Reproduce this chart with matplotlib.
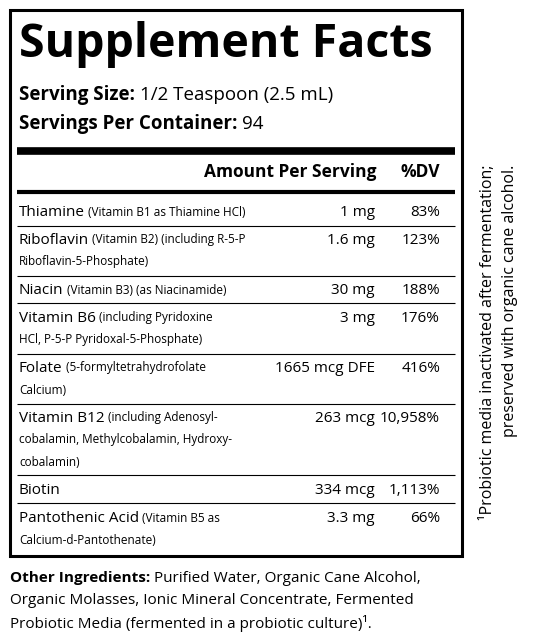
import matplotlib
matplotlib.use("Agg")
import matplotlib.pyplot as plt

FONT = "Open Sans"
title = "Supplement Facts"
serving_size = "1/2 Teaspoon (2.5 mL)"
servings = "94"
names = ["Thiamine", "Riboflavin", "Niacin", "Vitamin B6", "Folate", "Vitamin B12", "Biotin", "Pantothenic Acid"]
notes = [[" (Vitamin B1 as Thiamine HCl)"],
         [" (Vitamin B2) (including R-5-P", "Riboflavin-5-Phosphate)"],
         [" (Vitamin B3) (as Niacinamide)"],
         [" (including Pyridoxine", "HCl, P-5-P Pyridoxal-5-Phosphate)"],
         [" (5-formyltetrahydrofolate", "Calcium)"],
         [" (including Adenosyl-", "cobalamin, Methylcobalamin, Hydroxy-", "cobalamin)"],
         [""],
         [" (Vitamin B5 as", "Calcium-d-Pantothenate)"]]
amounts = ["1 mg", "1.6 mg", "30 mg", "3 mg", "1665 mcg DFE", "263 mcg", "334 mcg", "3.3 mg"]
dvs = ["83%", "123%", "188%", "176%", "416%", "10,958%", "1,113%", "66%"]
other = ["Purified Water, Organic Cane Alcohol,",
         "Organic Molasses, Ionic Mineral Concentrate, Fermented",
         "Probiotic Media (fermented in a probiotic culture)¹."]
footnote = ["¹Probiotic media inactivated after fermentation;", "preserved with organic cane alcohol."]

fig = plt.figure(figsize=(5.33, 6.38), dpi=100)
ax = fig.add_axes([0, 0, 1, 1])
ax.set_xlim(0, 533); ax.set_ylim(638, 0); ax.axis("off")
fig.canvas.draw()
r = fig.canvas.get_renderer()

def seq(x, y, parts):
    for s, size, w in parts:
        t = ax.text(x, y, s, fontsize=size, fontweight=w, family=FONT, va="center", ha="left")
        bb = t.get_window_extent(r)
        x += bb.width
    return x

L, R = 10, 462
ax.add_patch(plt.Rectangle((L, 10), R - L, 546, fill=False, lw=2.2, ec="black"))
ax.text(19, 45, title, fontsize=33.5, fontweight="bold", family=FONT, va="center")
seq(19, 95, [("Serving Size: ", 13.5, "bold"), (serving_size, 13.5, "normal")])
seq(19, 124, [("Servings Per Container: ", 13.5, "bold"), (servings, 13.5, "normal")])
def hline(y, lw):
    ax.plot([17, R - 7], [y, y], color="black", lw=lw, solid_capstyle="butt")
hline(151, 5.5)
ax.text(376, 172, "Amount Per Serving", fontsize=12.5, fontweight="bold", family=FONT, va="center", ha="right")
ax.text(440, 172, "%DV", fontsize=12.5, fontweight="bold", family=FONT, va="center", ha="right")
hline(192, 3)
ys = [212, 240, 290, 318, 368, 418, 490, 518]
seps = [226, 276, 303, 354, 404, 475, 503]
for i in range(8):
    y = ys[i]
    seq(19, y, [(names[i], 11, "normal"), (notes[i][0], 8.5, "normal")])
    for j, ln in enumerate(notes[i][1:]):
        ax.text(19, y + 22 * (j + 1), ln, fontsize=8.5, family=FONT, va="center")
    ax.text(375, y, amounts[i], fontsize=11, family=FONT, va="center", ha="right")
    ax.text(440, y, dvs[i], fontsize=11, family=FONT, va="center", ha="right")
for s in seps:
    hline(s, 0.8)
seq(10, 578, [("Other Ingredients: ", 11, "bold"), (other[0], 11, "normal")])
ax.text(10, 601, other[1], fontsize=11, family=FONT, va="center")
ax.text(10, 624, other[2], fontsize=11, family=FONT, va="center")
ax.text(488, 165, footnote[0], fontsize=11.5, family=FONT, rotation=90, va="center", ha="right", rotation_mode="anchor")
ax.text(510, 165, footnote[1], fontsize=11.5, family=FONT, rotation=90, va="center", ha="right", rotation_mode="anchor")
fig.savefig("out.png", dpi=100)
